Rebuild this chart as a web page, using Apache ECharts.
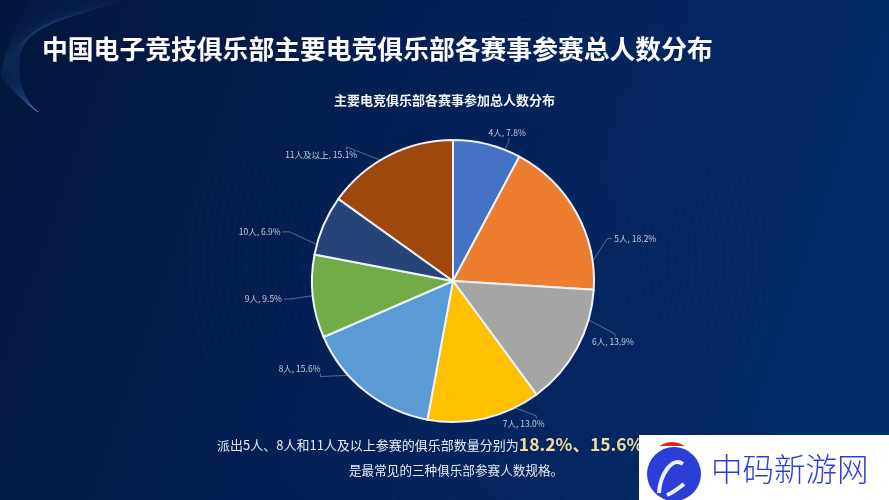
<!DOCTYPE html>
<html>
<head>
<meta charset="utf-8">
<style>html,body{margin:0;padding:0;background:#04173f}#chart{width:889px;height:500px}</style>
<script src="https://cdn.jsdelivr.net/npm/echarts@6/dist/echarts.min.js"></script>
</head>
<body>
<div id="chart"></div>
<script>
const categories = ['4人', '5人', '6人', '7人', '8人', '9人', '10人', '11人及以上'];
const shares = [7.8, 18.2, 13.9, 13.0, 15.6, 9.5, 6.9, 15.1];
const colors = ['#4472c4', '#ed7d31', '#a5a5a5', '#ffc000', '#5b9bd5', '#70ad47', '#264478', '#9e480e'];
const font = '"Noto Sans CJK SC", "Noto Sans", sans-serif';
const pieX = 453;
const pieY = 281;
const pieR = 141;
// nudges that move the outside labels to where the reference has them
const labelShiftX = [-19, 9, -14, -2, -19, 0, -13, -8];
const labelShiftY = [2, 33, -13, -8, -34, 1, 12, 12];
// where each leader line leaves the pie (degrees clockwise from 12 o'clock),
// which side of the label it joins and how far along that side
const lineAngles = [21.6, 82, 106, 154, 228, 264, 285, 329];
const lineSides = ['bottom', 'left', 'top', 'top', 'bottom', 'right', 'right', 'top'];
const lineAlong = [0.55, 0.5, 0.55, 0.8, 1, 0.5, 0.5, 0.85];

function leaderLine(p) {
  const i = p.dataIndex;
  const a = lineAngles[i] * Math.PI / 180;
  const start = [pieX + pieR * Math.sin(a), pieY - pieR * Math.cos(a)];
  const r = p.labelRect;
  const x = r.x + labelShiftX[i];
  const y = r.y + labelShiftY[i];
  const side = lineSides[i];
  let end, elbow;
  if (side === 'left') {
    end = [x - 2, y + r.height * lineAlong[i]];
    elbow = [end[0] - 5, end[1]];
  } else if (side === 'right') {
    end = [x + r.width + 2, y + r.height * lineAlong[i]];
    elbow = [end[0] + 7, end[1]];
  } else if (side === 'top') {
    end = [x + r.width * lineAlong[i], y - 1];
    elbow = [end[0], end[1] - 3];
  } else {
    end = [x + r.width * lineAlong[i], y + r.height + 1];
    elbow = [end[0], end[1] + 3];
  }
  return [start, elbow, end];
}

const chart = echarts.init(document.getElementById('chart'));

// faint rings around the pie in the backdrop
const rings = [];
for (let r = 150; r <= 290; r += 7) {
  rings.push({
    type: 'circle', silent: true, z: 0,
    shape: { cx: 480, cy: 260, r: r },
    style: { fill: 'none', stroke: 'rgba(120,170,235,0.04)', lineWidth: 1 }
  });
}
// wave in the top left corner
const waves = [];
for (let i = 0; i < 22; i++) {
  waves.push({
    type: 'bezierCurve', silent: true, z: 0,
    shape: { x1: 118 - i * 4, y1: 0, cpx1: 80 - i * 3, cpy1: 18 + i * 0.5, cpx2: 28 - i, cpy2: 20 + i, x2: 20 - i * 0.9, y2: 55 + i },
    style: { fill: 'none', stroke: 'rgba(90,150,230,0.1)', lineWidth: 1 }
  });
  waves.push({
    type: 'bezierCurve', silent: true, z: 0,
    shape: { x1: 20 - i * 0.9, y1: 55 + i, cpx1: 16 - i * 0.6, cpy1: 80, cpx2: 24 - i * 0.2, cpy2: 100, x2: 38, y2: 112 },
    style: { fill: 'none', stroke: 'rgba(90,150,230,0.1)', lineWidth: 1 }
  });
}

chart.setOption({
  backgroundColor: {
    type: 'linear', x: 0, y: 0, x2: 1, y2: 0.6,
    colorStops: [
      { offset: 0, color: '#03153b' },
      { offset: 0.45, color: '#031f55' },
      { offset: 1, color: '#042c6c' }
    ]
  },
  title: [
    {
      text: '中国电子竞技俱乐部主要电竞俱乐部各赛事参赛总人数分布',
      left: 37, top: 31,
      textStyle: { color: '#ffffff', fontSize: 25.8, fontWeight: 'bold', fontFamily: font }
    },
    {
      text: '主要电竞俱乐部各赛事参加总人数分布',
      left: 'center', top: 89,
      textStyle: { color: '#f2f4f8', fontSize: 13, fontWeight: 'bold', fontFamily: font }
    }
  ],
  series: [{
    type: 'pie',
    center: [pieX, pieY],
    radius: [0, pieR],
    startAngle: 90,
    clockwise: true,
    animation: false,
    itemStyle: { borderColor: '#eef2f6', borderWidth: 2 },
    label: {
      formatter: (p) => p.name + ', ' + p.value.toFixed(1) + '%',
      color: '#c4cedd',
      fontSize: 8.5,
      fontFamily: font
    },
    labelLine: {
      show: true, length: 14, length2: 12,
      lineStyle: { color: 'rgba(170,185,205,0.7)', width: 0.7 }
    },
    labelLayout: (p) => ({
      dx: labelShiftX[p.dataIndex],
      dy: labelShiftY[p.dataIndex],
      labelLinePoints: leaderLine(p)
    }),
    emphasis: { disabled: true },
    data: categories.map((name, i) => ({
      name: name, value: shares[i], itemStyle: { color: colors[i] }
    }))
  }],
  graphic: rings.concat(waves, [
    {
      type: 'text', left: 217, top: 436, z: 5,
      style: {
        text: '{a|派出5人、8人和11人及以上参赛的俱乐部数量分别为}{b|18.2%、15.6%和15.1%，}',
        rich: {
          a: { fill: '#e6ebf2', fontSize: 13, fontFamily: font },
          b: { fill: '#f3dc9a', fontSize: 17.5, fontWeight: 'bold', fontFamily: font }
        }
      }
    },
    {
      type: 'text', left: 349, top: 464, z: 5,
      style: { text: '是最常见的三种俱乐部参赛人数规格。', fill: '#e6ebf2', fontSize: 12.6, fontFamily: font }
    },
    // watermark in the lower right corner
    { type: 'rect', z: 10, shape: { x: 639, y: 435, width: 250, height: 65 }, style: { fill: '#ffffff' } },
    { type: 'circle', z: 11, shape: { cx: 672, cy: 464, r: 22 }, style: { fill: '#d8261c' } },
    { type: 'rect', z: 11, shape: { x: 645, y: 446, width: 55, height: 20 }, style: { fill: '#ffffff' } },
    { type: 'circle', z: 12, shape: { cx: 674, cy: 474, r: 27 }, style: { fill: '#2b3fd6' } },
    {
      type: 'bezierCurve', z: 13,
      shape: { x1: 683, y1: 464, cpx1: 672, cpy1: 456, cpx2: 660, cpy2: 475, x2: 659, y2: 493 },
      style: { fill: 'none', stroke: '#f0f0f0', lineWidth: 4 }
    },
    {
      type: 'bezierCurve', z: 13,
      shape: { x1: 684, y1: 484, cpx1: 679, cpy1: 488, cpx2: 672, cpy2: 493, x2: 667, y2: 495 },
      style: { fill: 'none', stroke: '#f0f0f0', lineWidth: 4 }
    },
    {
      type: 'text', left: 711, top: 453, z: 13,
      style: { text: '中码新游网', fill: '#2b3fd6', fontSize: 31.5, fontWeight: 300, fontFamily: font }
    }
  ])
});
</script>
</body>
</html>
